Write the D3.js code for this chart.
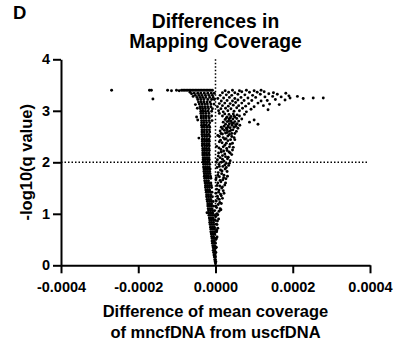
<!DOCTYPE html>
<html>
<head>
<meta charset="utf-8">
<script src="https://cdn.jsdelivr.net/npm/d3@7"></script>
<style>
body { margin: 0; background: #fff; }
text { font-family: "Liberation Sans", Arial, sans-serif; font-weight: bold; fill: #000; }
</style>
</head>
<body>
<svg id="chart" width="398" height="345"></svg>
<script>
// x values are in units of 1e-6 (difference of mean coverage), y is -log10(q)
const xTicks = [-0.0004, -0.0002, 0, 0.0002, 0.0004];
const yTicks = [0, 1, 2, 3, 4];
const qThreshold = 2;

// dense band left of zero: one y level per row, several x values on each
const bandY = [0.03,0.07,0.11,0.16,0.20,0.25,0.29,0.34,0.38,0.43,0.47,0.52,0.56,0.61,0.65,0.70,0.74,0.79,0.83,0.88,
	0.92,0.97,1.01,1.06,1.10,1.15,1.19,1.24,1.28,1.33,1.37,1.42,1.46,1.51,1.55,1.60,1.64,1.69,1.73,1.78,
	1.82,1.87,1.91,1.96,2.00,2.05,2.09,2.14,2.18,2.23,2.27,2.32,2.36,2.41,2.45,2.50,2.54,2.59,2.63,2.68,
	2.72,2.77,2.81,2.86,2.90,2.95,2.99,3.04,3.08,3.13,3.17,3.22,3.26,3.30,3.34];
const bandX = [[0],[-1,1],[-2,0],[-3,0],[-4,-1],[-5,-1,1],[-6,-2],[-6,-2,1],[-7,-3],[-8,-3,0],
	[-9,-4],[-9,-5,-1,2],[-10,-5],[-11,-6,-2],[-12,-7,-2,3],[-12,-7,-3],[-13,-8,-3],[-14,-9,-4,4],[-15,-10,-5],[-15,-10,-5,-1],
	[-16,-11,-6],[-17,-12,-7,-2],[-17,-12,-7],[-18,-13,-8,-3],[-19,-14,-9],[-20,-15,-10,-5],[-20,-15,-10],[-21,-16,-11,-6],[-22,-17,-12],[-23,-18,-13,-8],
	[-23,-18,-12],[-24,-19,-14,-9],[-25,-20,-15],[-26,-21,-16,-10],[-26,-21,-16,-11],[-27,-22,-17,-12],[-28,-23,-18],[-28,-23,-18,-12],[-29,-24,-19,-13],[-29,-24,-19,-14],
	[-30,-25,-20,-15],[-30,-25,-20,-14],[-31,-26,-21,-16],[-31,-26,-21,-15],[-32,-27,-22,-17],[-32,-27,-21,-16],[-32,-27,-22,-17],[-33,-28,-22,-16],[-33,-28,-23,-17],[-33,-28,-22,-16],
	[-33,-28,-23,-17],[-34,-28,-22,-16],[-34,-29,-23,-17],[-34,-28,-22,-16],[-34,-29,-23,-17],[-34,-28,-22,-15],[-35,-29,-23,-17],[-35,-29,-22,-15],[-35,-29,-23,-16],[-35,-29,-22,-15],
	[-36,-30,-24,-17],[-36,-30,-23,-15],[-36,-30,-24,-17,-9],[-37,-31,-24,-16],[-37,-31,-25,-18,-10],[-38,-32,-25,-17],[-38,-32,-26,-19,-10],[-39,-33,-26,-18,-8],[-40,-34,-27,-20,-12],[-42,-35,-28,-21,-12,-4],
	[-44,-37,-30,-22,-14],[-46,-38,-30,-20,-10,-3],[-48,-40,-33,-25,-15,-6],[-52,-43,-35,-26,-17,-8],[-55,-46,-38,-29,-20,-11,-3]];

// points capped at the largest -log10(q)
const capX = [-84,-80,-76,-72,-68,-64,-60,-56,-52,-48,-44,-40,-36,-32,-28,-24,-20,-16,-12,-8];
const capY = 3.40;

const leftStray = [[-269,3.40],[-171,3.40],[-166,3.40],[-162,3.23],[-124,3.40],[-114,3.39],[-101,3.40],[-94,3.39],[-88,3.40],
	[-49,2.88],[-46,2.82],[-43,2.47],[-22,1.02],[-62,3.33],[-58,3.28],[-66,3.36],[-52,3.12],[-47,3.05]];

const rightArm = [[2,0.35],[1,0.5],[4,0.55],[3,0.68],[6,0.72],[2,0.8],[5,0.86],[8,0.9],[1,0.95],
	[4,1.0],[9,1.05],[12,1.1],[3,1.12],[7,1.18],[15,1.2],[2,1.25],[10,1.28],[18,1.3],[5,1.34],[13,1.38],
	[8,1.42],[20,1.45],[3,1.48],[16,1.5],[11,1.54],[24,1.56],[6,1.6],[14,1.62],[19,1.66],[27,1.68],
	[2,1.7],[10,1.72],[22,1.75],[16,1.78],[7,1.8],[30,1.82],[13,1.85],[25,1.87],[4,1.9],[19,1.92],
	[34,1.94],[9,1.96],[28,1.98],[15,2.0],[22,2.02],[38,2.03],[5,2.05],[31,2.07],[12,2.09],[26,2.11],
	[18,2.13],[42,2.15],[8,2.18],[35,2.2],[21,2.22],[14,2.25],[29,2.27],[46,2.29],[3,2.31],[24,2.33],
	[38,2.35],[17,2.38],[10,2.4],[32,2.42],[50,2.44],[27,2.46],[20,2.48],[42,2.5],[6,2.52],[36,2.54],
	[14,2.56],[30,2.58],[54,2.6],[23,2.62],[45,2.63],
	[6,0.98],[14,1.08],[1,1.15],[11,1.22],[6,1.3],[15,1.35],[22,1.4],[1,1.4],[9,1.46],[18,1.52],
	[4,1.55],[26,1.6],[12,1.65],[1,1.66],[21,1.7],[31,1.73],[6,1.75],[17,1.83],[28,1.9],[10,1.92],
	[24,1.95],[36,1.98],[2,2.0],[18,2.06],[33,2.1],[7,2.12],[24,2.16],[38,2.18],[15,2.2],[30,2.23],
	[44,2.24],[9,2.28],[20,2.3],[36,2.3],[28,2.37],[44,2.37],[13,2.43],[24,2.45],[39,2.44],[48,2.48],
	[10,2.5],[32,2.51],[18,2.55],[42,2.56],[26,2.57],[36,2.6],[50,2.56],[12,2.61],[30,2.63],[40,2.62]];

const rightCluster = [[18,2.65],[28,2.66],[38,2.67],[48,2.68],[58,2.66],[22,2.7],[33,2.71],[43,2.72],[53,2.7],[63,2.72],
	[26,2.74],[36,2.75],[46,2.76],[56,2.75],[20,2.78],[30,2.79],[40,2.8],[50,2.79],[60,2.8],[25,2.83],
	[35,2.84],[45,2.84],[55,2.85],[68,2.84],[30,2.88],[40,2.89],[50,2.88],[18,2.9],[62,2.9],[35,2.93],
	[46,2.94],[10,2.95],[75,2.93],[88,2.78],[110,2.74],[100,2.82],
	[15,2.68],[32,2.68],[52,2.73],[42,2.77],[34,2.8],[28,2.86],[38,2.86],[48,2.9],[56,2.92],[24,2.94]];

const rightSpray = [[8,3.0],[20,2.98],[32,3.0],[48,2.99],[62,3.0],[80,2.98],[14,3.04],[26,3.05],[40,3.04],[55,3.06],
	[70,3.05],[92,3.03],[5,3.08],[18,3.1],[33,3.09],[46,3.11],[60,3.1],[78,3.09],[100,3.08],[124,3.1],
	[136,3.02],[10,3.14],[24,3.15],[38,3.14],[52,3.16],[68,3.15],[86,3.14],[110,3.15],[140,3.13],[165,3.12],
	[15,3.19],[30,3.2],[44,3.19],[58,3.21],[74,3.2],[94,3.2],[118,3.19],[134,3.2],[155,3.22],[180,3.21],
	[193,3.25],[227,3.24],[253,3.25],[279,3.25],[6,3.24],[21,3.25],[36,3.26],[50,3.24],[66,3.26],[84,3.25],
	[104,3.26],[128,3.27],[148,3.28],[170,3.27],[190,3.29],[212,3.28],[12,3.3],[28,3.31],[42,3.3],[58,3.32],
	[76,3.31],[96,3.3],[116,3.32],[138,3.33],[160,3.32],[182,3.34],[18,3.35],[34,3.36],[50,3.35],[68,3.37],
	[88,3.36],[108,3.36],[126,3.37],[150,3.35],[25,3.39],[44,3.4],[62,3.39],[80,3.4],[100,3.39],[118,3.4]];

var svg = d3.select("#chart");

var x = d3.scaleLinear().domain([-0.0004, 0.0004]).range([61, 370]);
var y = d3.scaleLinear().domain([0, 4]).range([265.3, 59.3]);

function collectPoints(){
	var pts = [];
	bandY.forEach(function(yy, i){
		bandX[i].forEach(function(xx){ pts.push([xx, yy]); });
	});
	capX.forEach(function(xx){ pts.push([xx, capY]); });
	[leftStray, rightArm, rightCluster, rightSpray].forEach(function(g){
		g.forEach(function(p){ pts.push(p); });
	});
	return pts;
}

// reference lines
svg.append("line")
	.attr("x1", x(0)).attr("x2", x(0))
	.attr("y1", y(4)).attr("y2", y(0))
	.style("stroke", "#000").style("stroke-width", 1.5)
	.style("stroke-dasharray", "1.5,2");

svg.append("line")
	.attr("x1", x(-0.0004)).attr("x2", x(0.0004) - 2)
	.attr("y1", y(qThreshold)).attr("y2", y(qThreshold))
	.style("stroke", "#000").style("stroke-width", 1.5)
	.style("stroke-dasharray", "1.5,2");

svg.selectAll(".dot")
	.data(collectPoints())
	.enter().append("circle")
	.attr("class", "dot")
	.attr("cx", d => x(d[0] * 1e-6))
	.attr("cy", d => y(d[1]))
	.attr("r", 1.45)
	.style("fill", "#000");

// axes
var xAxis = svg.append("g")
	.attr("transform", "translate(0," + y(0) + ")")
	.call(d3.axisBottom(x).tickValues(xTicks).tickSize(8).tickSizeOuter(0).tickPadding(8)
		.tickFormat(d => d.toFixed(4)));

var yAxis = svg.append("g")
	.attr("transform", "translate(" + x(-0.0004) + ",0)")
	.call(d3.axisLeft(y).tickValues(yTicks).tickSize(8).tickSizeOuter(0).tickPadding(3)
		.tickFormat(d3.format("d")));

[xAxis, yAxis].forEach(function(a){
	a.selectAll("path, line").style("stroke", "#000").style("stroke-width", 2);
	a.selectAll("text").style("font-size", "14.5px")
		.style("font-family", "'Liberation Sans', Arial, sans-serif")
		.style("font-weight", "bold").style("fill", "#000");
});

// titles and labels
svg.append("text").attr("x", 13).attr("y", 18.5)
	.style("font-size", "18.5px").text("D");

svg.append("text").attr("x", 215.5).attr("y", 27.5)
	.attr("text-anchor", "middle").style("font-size", "19.3px").text("Differences in");
svg.append("text").attr("x", 215.5).attr("y", 48)
	.attr("text-anchor", "middle").style("font-size", "19.3px").text("Mapping Coverage");

svg.append("text")
	.attr("transform", "translate(32," + y(qThreshold) + ") rotate(-90)")
	.attr("text-anchor", "middle").style("font-size", "16.5px").text("-log10(q value)");

svg.append("text").attr("x", 215.5).attr("y", 317)
	.attr("text-anchor", "middle").style("font-size", "16.5px").text("Difference of mean coverage");
svg.append("text").attr("x", 215.5).attr("y", 338)
	.attr("text-anchor", "middle").style("font-size", "16.5px").text("of mncfDNA from uscfDNA");
</script>
</body>
</html>
